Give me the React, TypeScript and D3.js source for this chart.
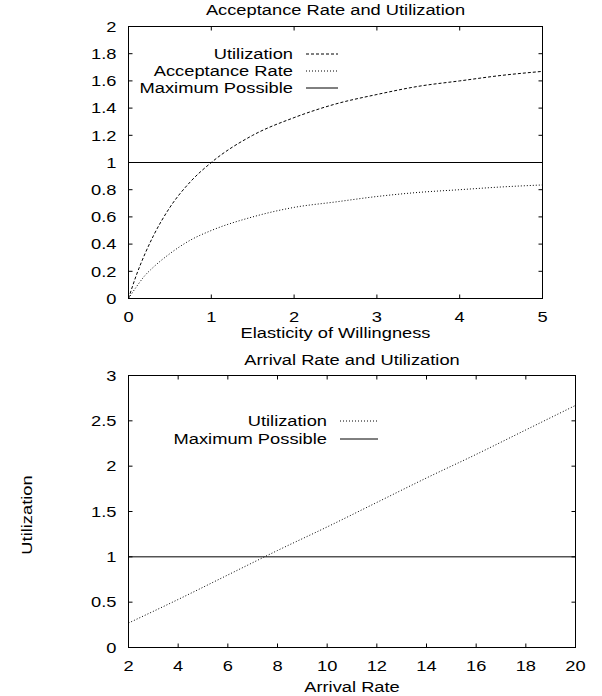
import { useRef, useEffect } from "react";
import * as d3 from "d3";

// top panel: elasticity vs utilization / acceptance rate
const elasticity = [0, 0.1, 0.2, 0.3, 0.5, 0.75, 1, 1.5, 2, 2.5, 3, 3.5, 4, 4.5, 5];
const utilization = [0, 0.18, 0.33, 0.46, 0.67, 0.86, 1.0, 1.2, 1.33, 1.43, 1.5, 1.56, 1.6, 1.64, 1.67];
const acceptance = [0, 0.09, 0.17, 0.23, 0.33, 0.43, 0.5, 0.6, 0.67, 0.71, 0.75, 0.78, 0.8, 0.82, 0.835];
const topXTicks = [0, 1, 2, 3, 4, 5];
const topYTicks = [0, 0.2, 0.4, 0.6, 0.8, 1, 1.2, 1.4, 1.6, 1.8, 2];

// bottom panel: arrival rate vs utilization
const arrival = [2, 4, 6, 8, 10, 12, 14, 16, 18, 20];
const arrivalUtil = [0.27, 0.53, 0.8, 1.07, 1.33, 1.6, 1.87, 2.13, 2.4, 2.67];
const botXTicks = [2, 4, 6, 8, 10, 12, 14, 16, 18, 20];
const botYTicks = [0, 0.5, 1, 1.5, 2, 2.5, 3];

const FONT = "'Liberation Sans', Arial, sans-serif";
const WIDEN = 1.22; // the original font is noticeably wider than Arial

type Sel = d3.Selection<SVGGElement, unknown, null, undefined>;
type Series = { label: string; xs: number[]; ys: number[]; dash: string | null };

function addText(g: Sel, x: number, y: number, str: string, anchor: string, dy = "0") {
  g.append("text")
    .attr("transform", `translate(${x},${y}) scale(${WIDEN},1)`)
    .attr("dy", dy)
    .attr("text-anchor", anchor)
    .text(str);
}

function drawPanel(
  svg: d3.Selection<SVGSVGElement, unknown, null, undefined>,
  opts: {
    left: number; right: number; top: number; bottom: number;
    xDomain: [number, number]; yDomain: [number, number];
    xTicks: number[]; yTicks: number[];
    title: string; titleY: number; xLabel: string; xLabelY: number;
    series: Series[];
    legendX: number; legendY: number; legendStep: number; legendLine: number;
  }
) {
  const x = d3.scaleLinear().domain(opts.xDomain).range([opts.left, opts.right]);
  const y = d3.scaleLinear().domain(opts.yDomain).range([opts.bottom, opts.top]);
  const g = svg.append("g").attr("font-family", FONT).attr("font-size", 15) as Sel;

  // frame
  g.append("rect")
    .attr("x", opts.left).attr("y", opts.top)
    .attr("width", opts.right - opts.left).attr("height", opts.bottom - opts.top)
    .attr("fill", "none").attr("stroke", "#000").attr("stroke-width", 1);

  // mirrored inward ticks
  opts.xTicks.forEach((t) => {
    g.append("line").attr("x1", x(t)).attr("x2", x(t)).attr("y1", opts.bottom).attr("y2", opts.bottom - 4).attr("stroke", "#000");
    g.append("line").attr("x1", x(t)).attr("x2", x(t)).attr("y1", opts.top).attr("y2", opts.top + 4).attr("stroke", "#000");
    addText(g, x(t), opts.bottom + 23, `${t}`, "middle");
  });
  opts.yTicks.forEach((t) => {
    g.append("line").attr("x1", opts.left).attr("x2", opts.left + 4).attr("y1", y(t)).attr("y2", y(t)).attr("stroke", "#000");
    g.append("line").attr("x1", opts.right).attr("x2", opts.right - 4).attr("y1", y(t)).attr("y2", y(t)).attr("stroke", "#000");
    addText(g, opts.left - 12, y(t), `${t}`, "end", "0.35em");
  });

  // titles
  addText(g, (opts.left + opts.right) / 2, opts.titleY, opts.title, "middle");
  addText(g, (opts.left + opts.right) / 2, opts.xLabelY, opts.xLabel, "middle");

  // series + legend
  opts.series.forEach((s, i) => {
    const pts = s.xs.map((v, j) => [v, s.ys[j]] as [number, number]);
    const line = d3.line<[number, number]>().x((d) => x(d[0])).y((d) => y(d[1])).curve(d3.curveMonotoneX);
    const path = g.append("path").datum(pts).attr("d", line).attr("fill", "none").attr("stroke", "#000").attr("stroke-width", 1);
    if (s.dash) path.attr("stroke-dasharray", s.dash);
    const ly = opts.legendY + i * opts.legendStep;
    addText(g, opts.legendX, ly, s.label, "end", "0.35em");
    const ll = g.append("line").attr("x1", opts.legendX + 13).attr("x2", opts.legendX + 13 + opts.legendLine)
      .attr("y1", ly).attr("y2", ly).attr("stroke", "#000").attr("stroke-width", 1);
    if (s.dash) ll.attr("stroke-dasharray", s.dash);
  });
}

export default function App() {
  const svgRef = useRef<SVGSVGElement>(null);

  useEffect(() => {
    if (!svgRef.current) return;
    const svg = d3.select(svgRef.current);
    svg.selectAll("*").remove();

    drawPanel(svg, {
      left: 128.5, right: 542.5, top: 26.5, bottom: 298.5,
      xDomain: [0, 5], yDomain: [0, 2],
      xTicks: topXTicks, yTicks: topYTicks,
      title: "Acceptance Rate and Utilization", titleY: 15,
      xLabel: "Elasticity of Willingness", xLabelY: 338,
      series: [
        { label: "Utilization", xs: elasticity, ys: utilization, dash: "3,2" },
        { label: "Acceptance Rate", xs: elasticity, ys: acceptance, dash: "1,2" },
        { label: "Maximum Possible", xs: [0, 5], ys: [1, 1], dash: null },
      ],
      legendX: 293, legendY: 54, legendStep: 17, legendLine: 32,
    });

    drawPanel(svg, {
      left: 128.5, right: 575.5, top: 375.5, bottom: 647.5,
      xDomain: [2, 20], yDomain: [0, 3],
      xTicks: botXTicks, yTicks: botYTicks,
      title: "Arrival Rate and Utilization", titleY: 365,
      xLabel: "Arrival Rate", xLabelY: 692,
      series: [
        { label: "Utilization", xs: arrival, ys: arrivalUtil, dash: "1,2" },
        { label: "Maximum Possible", xs: [2, 20], ys: [1, 1], dash: null },
      ],
      legendX: 327, legendY: 421, legendStep: 18, legendLine: 38,
    });

    svg.append("text")
      .attr("transform", `translate(32,515) rotate(-90) scale(${WIDEN},1)`)
      .attr("text-anchor", "middle")
      .attr("font-family", FONT).attr("font-size", 15)
      .text("Utilization");
  }, []);

  return (
    <svg ref={svgRef} width={602} height={696}
      style={{ position: "absolute", left: 0, top: 0, background: "#fff" }} />
  );
}
